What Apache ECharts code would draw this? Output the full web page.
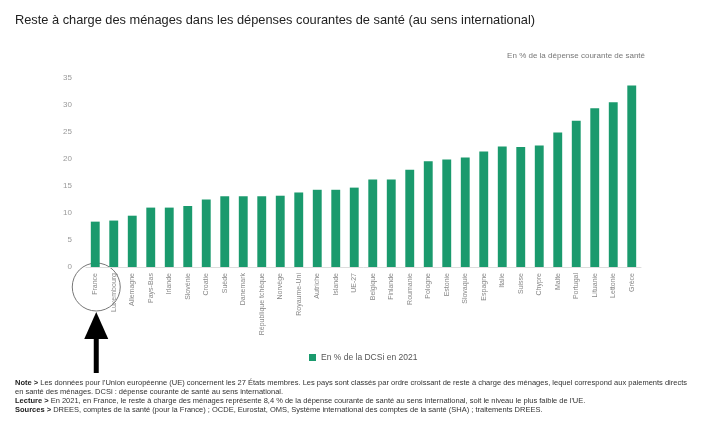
<!DOCTYPE html>
<html>
<head>
<meta charset="utf-8">
<script src="https://cdn.jsdelivr.net/npm/echarts@6/dist/echarts.min.js"></script>
<style>html,body{margin:0;padding:0;background:#fff}#c{width:704px;height:436px}</style>
</head>
<body>
<div id="c"></div>
<script>
var categories = ["France","Luxembourg","Allemagne","Pays-Bas","Irlande","Slovénie","Croatie","Suède","Danemark","République tchèque","Norvège","Royaume-Uni","Autriche","Islande","UE-27","Belgique","Finlande","Roumanie","Pologne","Estonie","Slovaquie","Espagne","Italie","Suisse","Chypre","Malte","Portugal","Lituanie","Lettonie","Grèce"];
var values = [8.4,8.6,9.5,11.0,11.0,11.3,12.5,13.1,13.1,13.1,13.2,13.8,14.3,14.3,14.7,16.2,16.2,18.0,19.6,19.9,20.3,21.4,22.3,22.2,22.5,24.9,27.1,29.4,30.5,33.6];
var yTicks = [0,5,10,15,20,25,30,35];
var seriesName = "En % de la DCSi en 2021";
var titleText = "Reste à charge des ménages dans les dépenses courantes de santé (au sens international)";
var unitText = "En % de la dépense courante de santé";
var notes = [
  ["Note > ", "Les données pour l'Union européenne (UE) concernent les 27 États membres. Les pays sont classés par ordre croissant de reste à charge des ménages, lequel correspond aux paiements directs"],
  ["", "en santé des ménages. DCSi : dépense courante de santé au sens international."],
  ["Lecture > ", "En 2021, en France, le reste à charge des ménages représente 8,4 % de la dépense courante de santé au sens international, soit le niveau le plus faible de l'UE."],
  ["Sources > ", "DREES, comptes de la santé (pour la France) ; OCDE, Eurostat, OMS, Système international des comptes de la santé (SHA) ; traitements DREES."]
];

var chart = echarts.init(document.getElementById('c'));
var FONT = "Liberation Sans, Arial, sans-serif";
var noteGraphics = notes.map(function (n, i) {
  return {
    type: 'text', left: 15, top: 379 + i * 9,
    style: {
      text: (n[0] ? '{b|' + n[0] + '}' : '') + '{n|' + n[1] + '}',
      rich: {
        b: {fontFamily: FONT, fontSize: 7.5, fontWeight: 'bold', fill: '#222'},
        n: {fontFamily: FONT, fontSize: 7.5, fill: '#333'}
      }
    }
  };
});

chart.setOption({
  animation: false,
  textStyle: {fontFamily: FONT},
  title: [
    {text: titleText, left: 10, top: 9, textStyle: {fontSize: 12.8, fontWeight: 'normal', color: '#222', fontFamily: FONT}},
    {text: unitText, right: 54, top: 47, textStyle: {fontSize: 8, fontWeight: 'normal', color: '#777', fontFamily: FONT}}
  ],
  legend: {
    data: [seriesName], left: 304, top: 348, itemWidth: 7, itemHeight: 7, icon: 'rect',
    textStyle: {fontSize: 8.5, color: '#555', fontFamily: FONT}
  },
  grid: {left: 86, right: 63, top: 78, bottom: 169, containLabel: false},
  xAxis: {
    type: 'category', data: categories,
    axisLine: {show: true, lineStyle: {color: '#ddd'}},
    axisTick: {show: false},
    axisLabel: {rotate: 90, interval: 0, fontSize: 7, color: '#888', margin: 6, fontFamily: FONT}
  },
  yAxis: {
    type: 'value', min: yTicks[0], max: yTicks[yTicks.length - 1], interval: 5,
    axisLine: {show: false}, axisTick: {show: false},
    splitLine: {show: false},
    axisLabel: {fontSize: 8, color: '#999', margin: 14, fontFamily: FONT}
  },
  series: [{
    name: seriesName, type: 'bar', data: values, barWidth: '48%',
    itemStyle: {color: '#1a9a6d'}
  }],
  graphic: noteGraphics
});

var p = chart.convertToPixel({gridIndex: 0}, [categories[0], 0]);
var cx = p[0] + 1, by = p[1];
chart.setOption({
  graphic: noteGraphics.concat([
    {type: 'circle', shape: {cx: cx, cy: by + 20, r: 24}, style: {fill: 'none', stroke: '#777', lineWidth: 1}},
    {type: 'polygon', shape: {points: [[cx, by + 45], [cx - 12, by + 72], [cx + 12, by + 72]]}, style: {fill: '#000'}},
    {type: 'rect', shape: {x: cx - 2.5, y: by + 70, width: 5, height: 36}, style: {fill: '#000'}}
  ])
});
</script>
</body>
</html>
